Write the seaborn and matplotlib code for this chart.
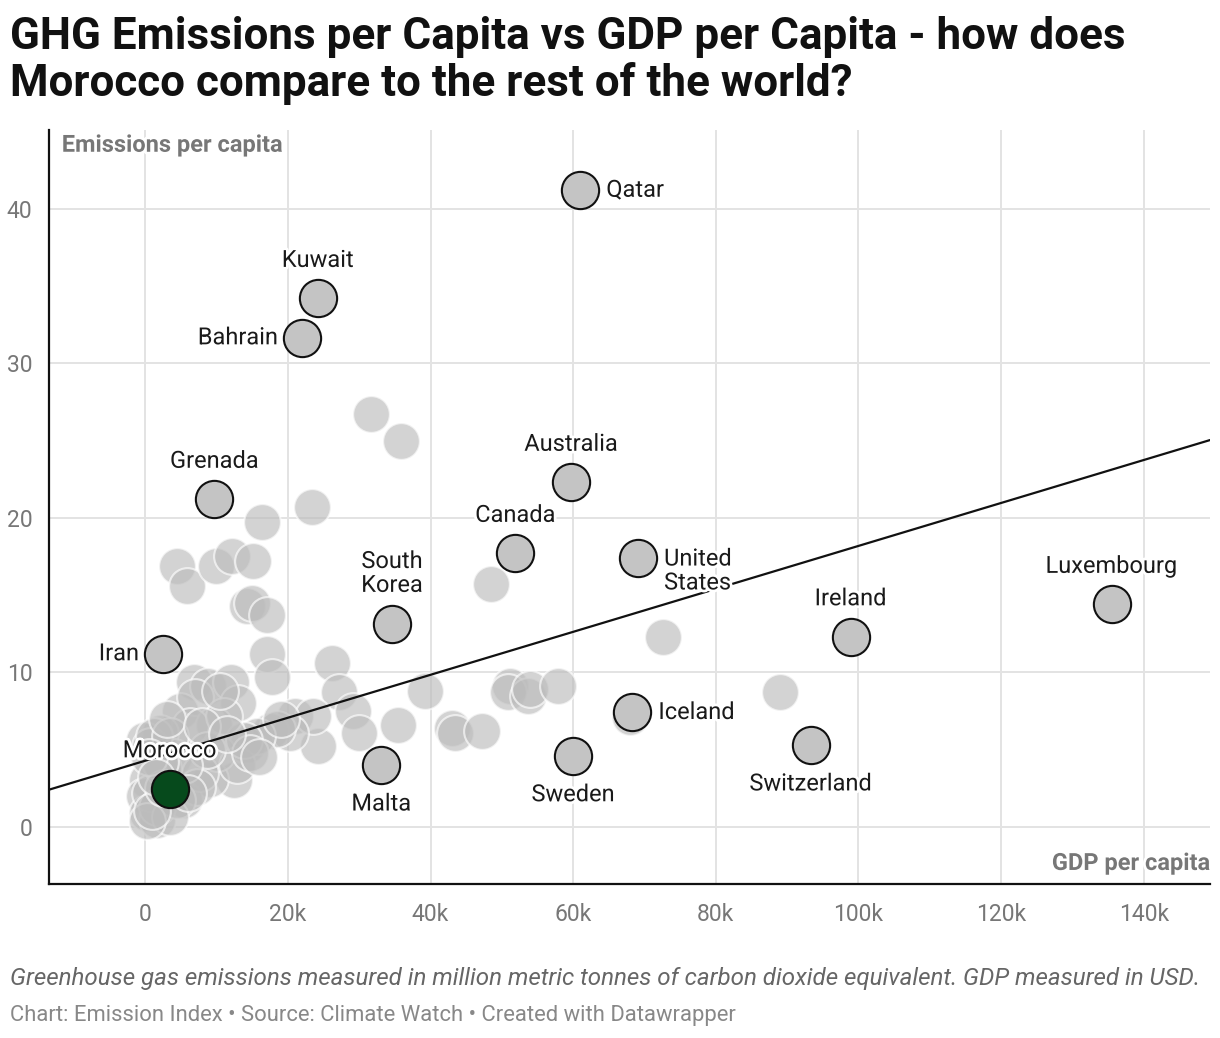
import pandas as pd
import seaborn as sns
import numpy as np
import matplotlib.pyplot as plt
import matplotlib.patheffects as pe
import matplotlib.ticker as ticker

# labelled countries: GDP per capita (thousand USD), emissions per capita
countries = ['Qatar', 'Kuwait', 'Bahrain', 'Grenada', 'Australia', 'Canada',
             'United\nStates', 'South\nKorea', 'Iran', 'Luxembourg', 'Ireland',
             'Iceland', 'Switzerland', 'Sweden', 'Malta', 'Morocco']
gdp = [61.0, 24.2, 22.0, 9.7, 59.7, 51.9, 69.1, 34.6, 2.5, 135.5, 98.9,
       68.3, 93.3, 60.0, 33.1, 3.4]
emissions = [41.2, 34.2, 31.65, 21.2, 22.3, 17.7, 17.4, 13.1, 11.2, 14.4, 12.3,
             7.4, 5.3, 4.6, 4.0, 2.46]
label_side = ['right', 'above', 'left', 'above', 'above', 'above', 'right', 'above',
              'left', 'above', 'above', 'right', 'below', 'below', 'below', 'above']

# the other countries (no label)
gdp_other = [31.6, 35.8, 23.4, 16.4, 4.4, 5.9, 9.9, 12.2, 15.1, 14.3, 15.0, 17.0,
             17.0, 17.8, 26.2, 27.2, 29.1, 30.0, 24.2, 21.0, 23.5, 17.5, 20.3, 35.5,
             39.2, 43.0, 43.4, 47.2, 51.2, 50.9, 53.7, 54.0, 57.9, 48.5, 72.6, 89.0,
             68.0, 6.8, 8.8, 12.0, 13.0, 4.9, 7.0, 9.6, 6.3, 14.2, 12.4, 9.1, 18.5,
             15.6, 2.1, -0.2, 0.7, 10.0, 4.0, 12.8, 0.2, -0.2, 0.2, 1.6, 5.4, 7.7,
             1.2, 3.5, 13.8, 14.7, 8.6, 7.2, 0.7, 1.6, 4.4, 3.5, 0.2, 2.5, 5.5, 11.0,
             10.5, 3.0, 2.0, 1.0, 2.5, 6.0, 8.0, 11.5, 16.0, 19.0, 0.5, 1.5]
em_other = [26.7, 25.0, 20.7, 19.7, 16.9, 15.6, 16.9, 17.5, 17.2, 14.3, 14.5, 13.7,
            11.2, 9.7, 10.6, 8.7, 7.5, 6.05, 5.2, 7.2, 7.2, 6.2, 6.1, 6.6,
            8.8, 6.4, 6.05, 6.2, 9.1, 8.75, 8.5, 8.9, 9.1, 15.7, 12.3, 8.75,
            7.1, 9.4, 9.1, 9.4, 8.0, 7.5, 8.4, 6.6, 6.5, 5.3, 3.0, 3.1, 6.3,
            5.85, 6.05, 5.6, 5.2, 4.8, 4.55, 4.0, 3.0, 2.0, 0.9, 0.45, 1.75, 3.5,
            5.85, 5.85, 5.6, 4.8, 5.0, 2.6, 2.2, 1.3, 1.75, 0.65, 0.4, 3.8, 4.0, 7.2,
            8.8, 7.0, 4.2, 1.0, 2.5, 2.2, 6.5, 6.0, 4.5, 7.0, 4.5, 3.2]

# trend line (intercept, slope per thousand USD)
trend_intercept = 4.28
trend_slope = 0.139

x_ticks = [0, 20, 40, 60, 80, 100, 120, 140]
y_ticks = [0, 10, 20, 30, 40]

sns.set_theme(style='white')
plt.rcParams['font.family'] = ['Roboto', 'DejaVu Sans']

labelled = pd.DataFrame({'country': countries, 'gdp': gdp, 'emissions': emissions,
                         'side': label_side})
others = pd.DataFrame({'gdp': gdp_other, 'emissions': em_other})

fig = plt.figure(figsize=(12.2, 10.38), dpi=100)
ax = fig.add_axes([49 / 1220, 1 - 884 / 1038, (1210 - 49) / 1220, (884 - 130) / 1038])

sns.scatterplot(data=others, x='gdp', y='emissions', ax=ax, s=700, color='#bcbcbc',
                alpha=0.65, edgecolor='white', linewidth=1.5, zorder=2, legend=False)

ax.axline((0, trend_intercept), slope=trend_slope, color='#111111', linewidth=1.6, zorder=3)

grey_lab = labelled[labelled['country'] != 'Morocco']
sns.scatterplot(data=grey_lab, x='gdp', y='emissions', ax=ax, s=720, color='#c4c4c4',
                edgecolor='#111111', linewidth=1.5, zorder=4, legend=False)
sns.scatterplot(data=labelled[labelled['country'] == 'Morocco'], x='gdp', y='emissions',
                ax=ax, s=720, color='#064a1c', edgecolor='#111111', linewidth=1.5,
                zorder=6, legend=False)

ax.set_xlim(-13.5, 149.3)
ax.set_ylim(-3.7, 45.1)
ax.set_xticks(x_ticks)
ax.set_yticks(y_ticks)
ax.set_xlabel('')
ax.set_ylabel('')
ax.xaxis.set_major_formatter(ticker.FuncFormatter(lambda v, p: '0' if v == 0 else f'{int(v)}k'))
ax.grid(True, color='#e3e3e3', linewidth=1.4, zorder=0)
ax.set_axisbelow(True)
for s in ['top', 'right']:
    ax.spines[s].set_visible(False)
for s in ['left', 'bottom']:
    ax.spines[s].set_color('#111111')
    ax.spines[s].set_linewidth(1.6)
ax.tick_params(axis='both', length=0, labelsize=16.5, labelcolor='#777777')
ax.tick_params(axis='x', pad=14)
ax.tick_params(axis='y', pad=12)

offsets = {'right': (26, 0, 'left', 'center'), 'left': (-24, 0, 'right', 'center'),
           'above': (0, 38, 'center', 'center'), 'below': (0, -39, 'center', 'center')}
halo = [pe.withStroke(linewidth=4, foreground='white')]
for _, r in labelled.iterrows():
    dx, dy, ha, va = offsets[r['side']]
    if '\n' in r['country']:
        if r['side'] == 'right':
            dy = -13
        else:
            dy = 51
    ax.annotate(r['country'], (r['gdp'], r['emissions']), xytext=(dx, dy),
                textcoords='offset pixels', ha=ha, va=va, fontsize=17, color='#1a1a1a',
                linespacing=1.05, zorder=7, path_effects=halo)

ax.text(0.011, 0.995, 'Emissions per capita', transform=ax.transAxes, ha='left', va='top',
        fontsize=17, fontweight='bold', color='#777777', zorder=8,
        path_effects=[pe.withStroke(linewidth=4, foreground='white')])
ax.text(1.0, 0.012, 'GDP per capita', transform=ax.transAxes, ha='right', va='bottom',
        fontsize=17, fontweight='bold', color='#777777', zorder=8,
        path_effects=[pe.withStroke(linewidth=4, foreground='white')])

fig.text(10 / 1220, 1 - 16 / 1038,
         'GHG Emissions per Capita vs GDP per Capita - how does\nMorocco compare to the rest of the world?',
         ha='left', va='top', fontsize=31.7, fontweight='bold', color='#111111', linespacing=1.12)
fig.text(10 / 1220, 1 - 978 / 1038,
         'Greenhouse gas emissions measured in million metric tonnes of carbon dioxide equivalent. GDP measured in USD.',
         ha='left', va='center', fontsize=17.4, style='italic', color='#666666')
fig.text(10 / 1220, 1 - 1015 / 1038,
         'Chart: Emission Index \u2022 Source: Climate Watch \u2022 Created with Datawrapper',
         ha='left', va='center', fontsize=15.8, color='#888888')

fig.savefig('out.png', dpi=100)
